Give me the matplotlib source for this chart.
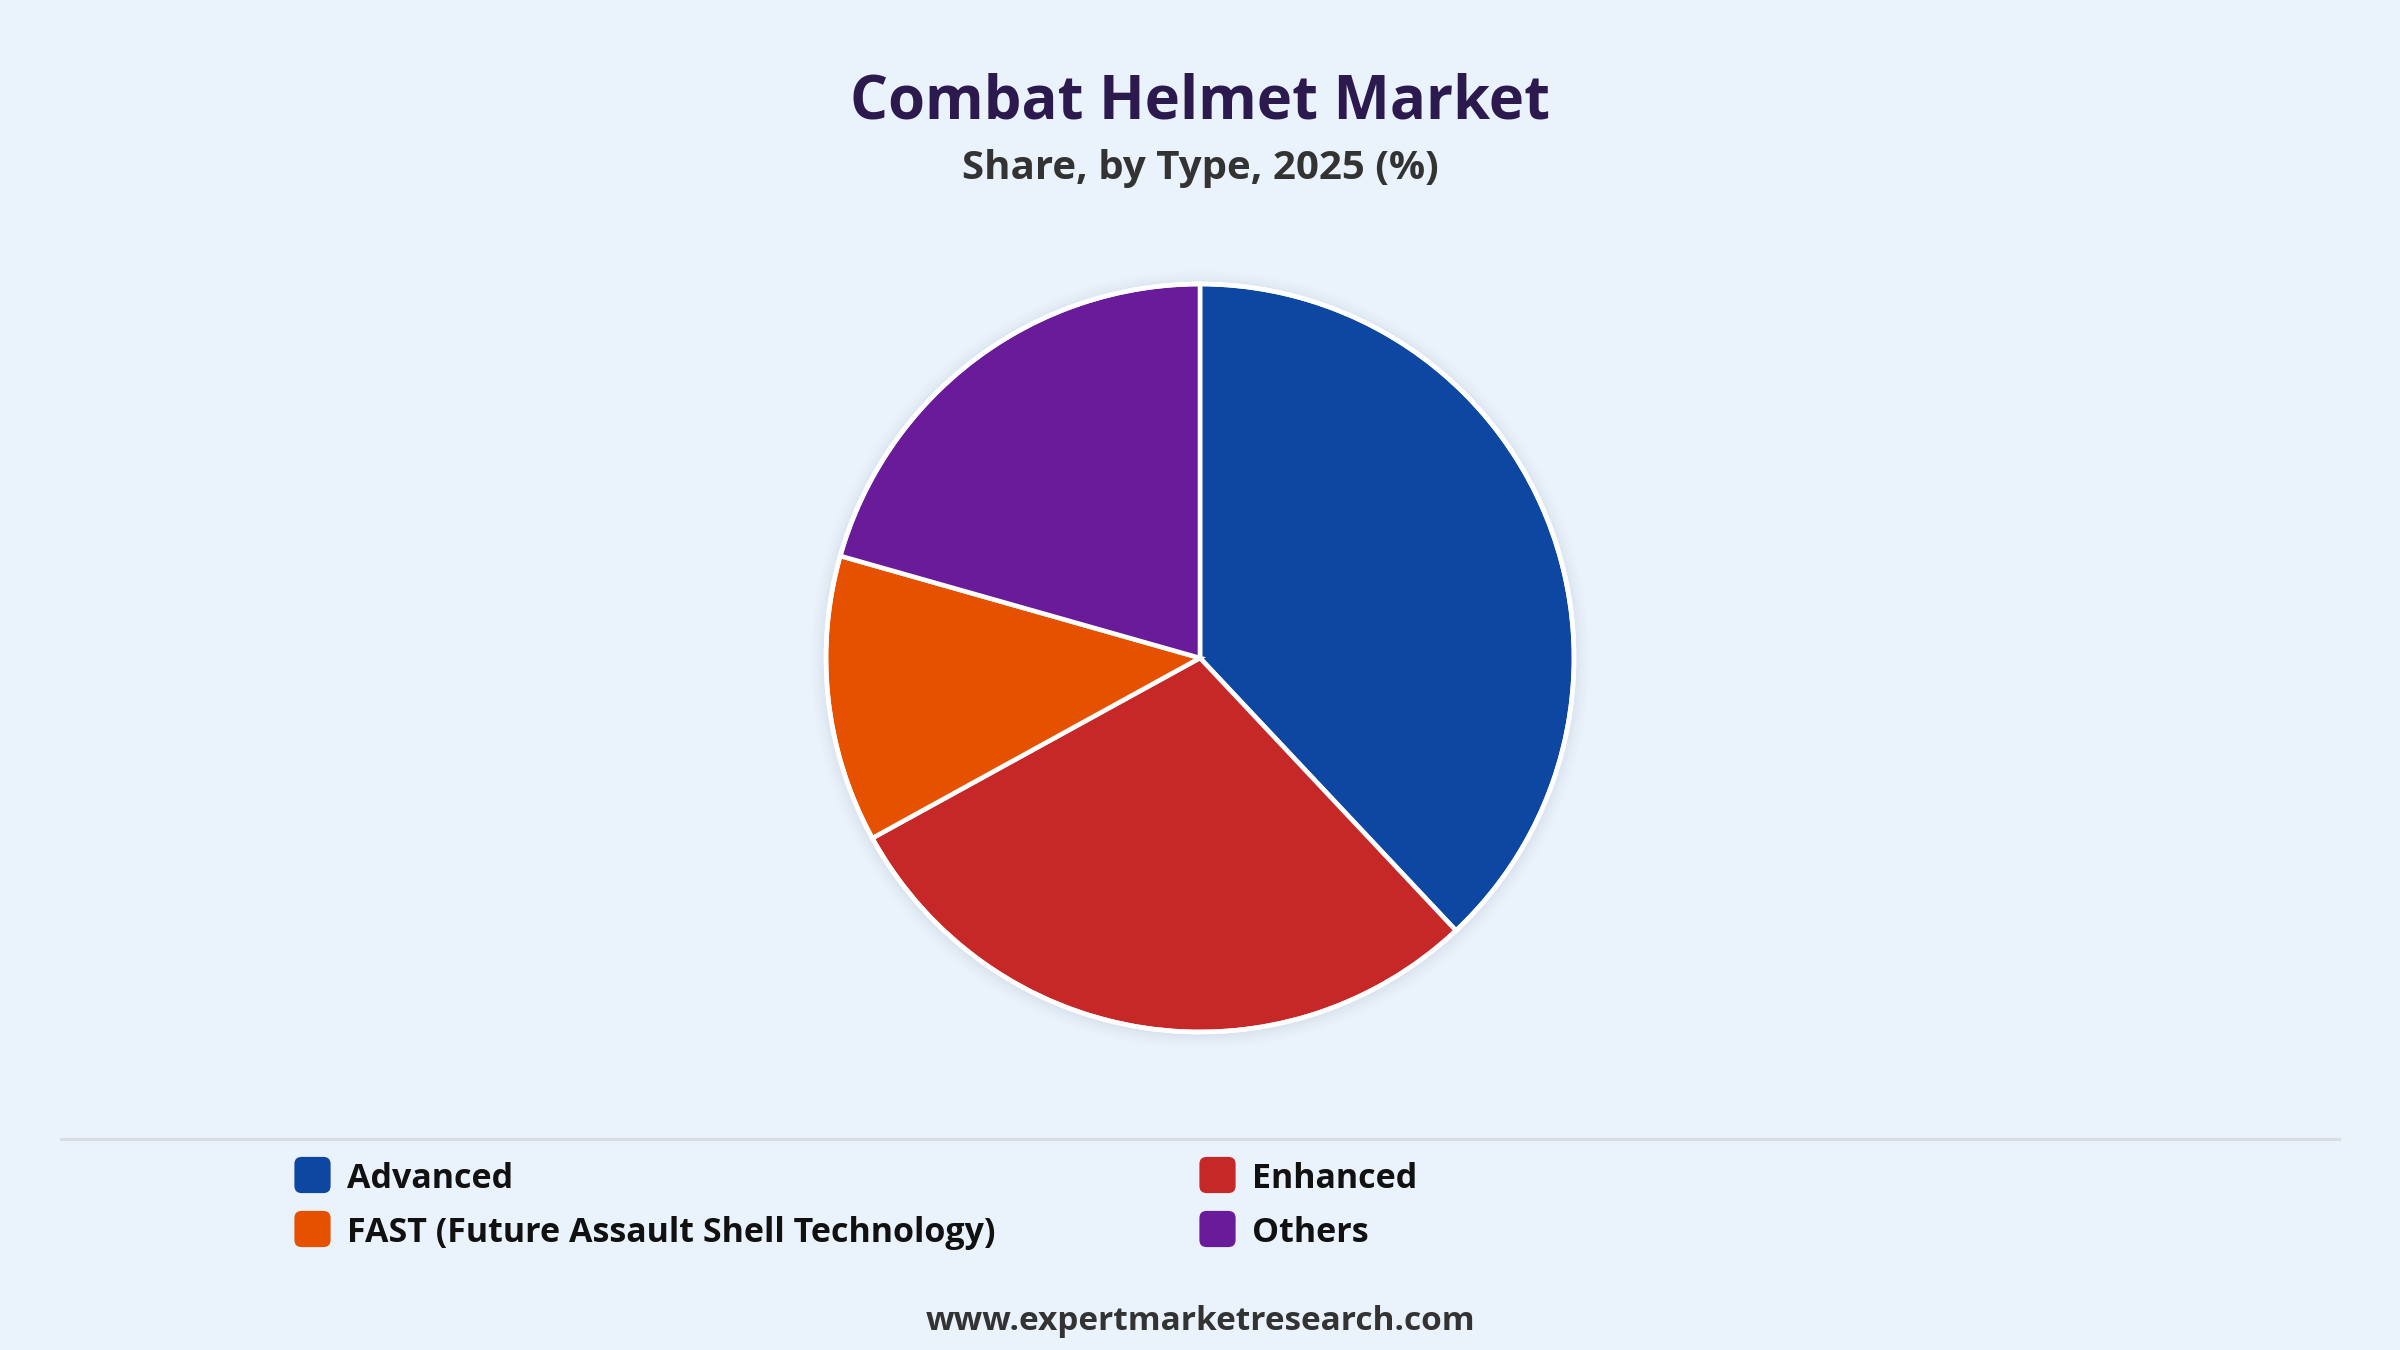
import matplotlib
matplotlib.use("Agg")
import matplotlib.pyplot as plt
from matplotlib.patches import Circle, FancyBboxPatch

categories = ["Advanced", "Enhanced", "FAST (Future Assault Shell Technology)", "Others"]
shares = [38, 29, 12.4, 20.6]
colors = ["#0d47a1", "#c62828", "#e65100", "#6a1b9a"]

title = "Combat Helmet Market"
subtitle = "Share, by Type, 2025 (%)"
footer = "www.expertmarketresearch.com"

BG = "#eaf2fb"
plt.rcParams['font.family'] = ['Open Sans', 'DejaVu Sans']

W, H = 2400, 1350
fig = plt.figure(figsize=(24, 13.5), dpi=100, facecolor=BG)

# pie axes: center (1200, 658), radius 374 px
cx, cy, r = 1200, 658, 374
ax = fig.add_axes([(cx - r) / W, (H - cy - r) / H, 2 * r / W, 2 * r / H])
ax.set_facecolor("none")
ax.set_xlim(-1, 1)
ax.set_ylim(-1, 1)
ax.axis("off")

# soft shadow
for i, a in enumerate([0.05, 0.04, 0.03, 0.02, 0.012]):
    ax.add_patch(Circle((0.0, -0.004), 1.0 + 0.008 * (i + 1), color="#8a9bb0", alpha=a,
                        lw=0, zorder=0, clip_on=False))

ax.pie(shares, colors=colors, startangle=90, counterclock=False, radius=1.0,
       wedgeprops=dict(edgecolor="white", linewidth=3.3), frame=False)
ax.add_patch(Circle((0, 0), 1.0, fill=False, edgecolor="white", lw=3.3, zorder=5, clip_on=False))
ax.set_xlim(-1, 1)
ax.set_ylim(-1, 1)

# titles
fig.text(0.5, 1 - 103 / H, title, ha="center", va="center", fontsize=43, fontweight="bold",
         color="#2c1a4f")
fig.text(0.5, 1 - 168 / H, subtitle, ha="center", va="center", fontsize=29, fontweight="bold",
         color="#333333")

# separator line
fig.add_artist(plt.Line2D([61 / W, 2339 / W], [1 - 1139 / H, 1 - 1139 / H], color="#d9dde2", lw=2.2))

# legend
col_x = [295, 1200]
row_y = [1175, 1229]
sq = 35
for i, (lab, col) in enumerate(zip(categories, colors)):
    x = col_x[i % 2]
    y = row_y[i // 2]
    fig.add_artist(FancyBboxPatch(((x + 3) / W, (H - y - sq / 2 + 3) / H), (sq - 6) / W, (sq - 6) / H,
                                  boxstyle="round,pad=0.0015,rounding_size=0.003",
                                  transform=fig.transFigure, facecolor=col, edgecolor="none",
                                  mutation_aspect=W / H))
    fig.text((x + sq + 17) / W, 1 - (y + 4) / H, lab, ha="left", va="center", fontsize=24.5,
             fontweight="bold", color="#111111")

fig.text(0.5, 1 - 1322 / H, footer, ha="center", va="center", fontsize=24, fontweight="bold",
         color="#333333")

fig.savefig("out.png", dpi=100, facecolor=BG)
